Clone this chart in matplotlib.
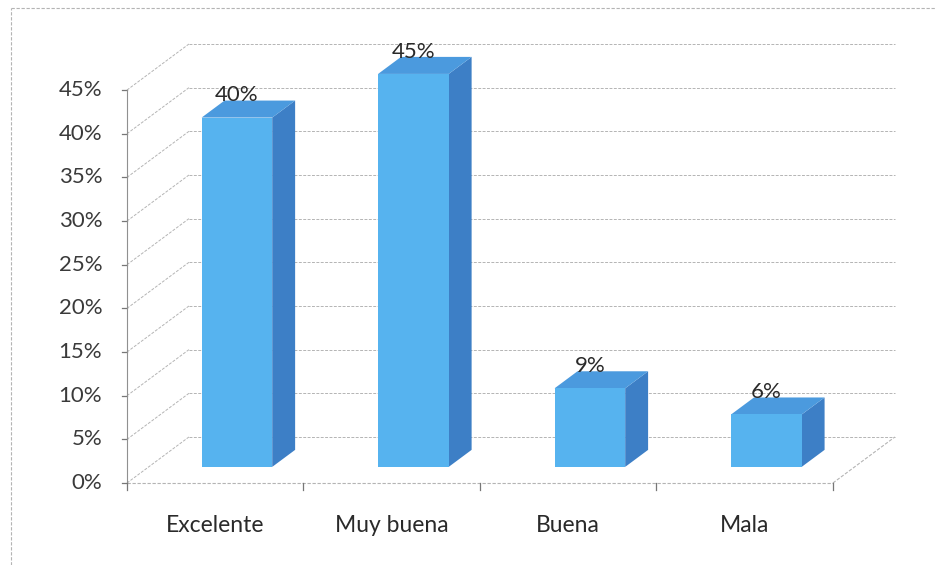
import matplotlib.pyplot as plt
from matplotlib.patches import Polygon
from matplotlib.lines import Line2D

plt.rcParams['font.family'] = ['Lato', 'DejaVu Sans']

categories = ['Excelente', 'Muy buena', 'Buena', 'Mala']
values = [40, 45, 9, 6]
value_ticks = [0, 5, 10, 15, 20, 25, 30, 35, 40, 45]

# oblique depth offset (full depth of the box) in data units
DX = 0.351
DY = 5.27
# bars sit between these depth fractions, width in category units
D1, D2 = 0.35, 0.72
BAR_W = 0.40

FRONT = '#56b3ef'
SIDE = '#3d7fc6'
TOP = '#4b9ade'
GRID = '#b4b4b4'
DASH = (0, (3, 1.5))


def proj(x, v, d):
    return (x + d * DX, v + d * DY)


fig = plt.figure(figsize=(9.36, 5.65), dpi=100)
ax = fig.add_axes([0, 0, 1, 1])
ax.set_xlim(-0.7195, 4.584)
ax.set_ylim(-9.39, 55.31)
ax.axis('off')

n = len(categories)
vmax = value_ticks[-1]

# back wall gridlines and left wall diagonals
for v in value_ticks:
    x0, y0 = proj(0, v, 1)
    x1, y1 = proj(n, v, 1)
    ax.plot([x0, x1], [y0, y1], color=GRID, lw=0.7, ls=DASH)
    fx, fy = proj(0, v, 0)
    ax.plot([fx, x0], [fy, y0], color=GRID, lw=0.7, ls=DASH)
    ax.plot([fx - 0.028, fx], [fy, fy], color='#777777', lw=0.9)
    ax.text(fx - 0.14, fy, f'{v}%', ha='right', va='center',
            fontsize=16, color='#3a3a3a')

# floor edges and front value axis
ax.plot(*zip(proj(0, 0, 0), proj(n, 0, 0)), color=GRID, lw=0.8, ls=DASH)
ax.plot(*zip(proj(n, 0, 0), proj(n, 0, 1)), color=GRID, lw=0.8, ls=DASH)
ax.plot(*zip(proj(0, 0, 0), proj(0, vmax, 0)), color='#909090', lw=0.8)
for i in range(n + 1):
    x, y = proj(i, 0, 0)
    ax.plot([x, x], [y, y - 0.8], color='#777777', lw=0.9)

# 3D columns
for i, (cat, val) in enumerate(zip(categories, values)):
    xl = i + 0.5 - BAR_W / 2
    xr = i + 0.5 + BAR_W / 2
    front = [proj(xl, 0, D1), proj(xr, 0, D1), proj(xr, val, D1), proj(xl, val, D1)]
    side = [proj(xr, 0, D1), proj(xr, 0, D2), proj(xr, val, D2), proj(xr, val, D1)]
    top = [proj(xl, val, D1), proj(xr, val, D1), proj(xr, val, D2), proj(xl, val, D2)]
    ax.add_patch(Polygon(side, closed=True, fc=SIDE, ec='none', zorder=3))
    ax.add_patch(Polygon(top, closed=True, fc=TOP, ec='none', zorder=3))
    ax.add_patch(Polygon(front, closed=True, fc=FRONT, ec='none', zorder=3))

    lx, _ = proj(i + 0.5, val, D1)
    _, ly = proj(i + 0.5, val, D2)
    ax.text(lx, ly + 0.6, f'{val}%', ha='center', va='center',
            fontsize=16, color='#2a2a2a', zorder=4)

    cx, cy = proj(i + 0.5, 0, 0)
    ax.text(cx, cy - 4.9, cat, ha='center', va='center',
            fontsize=16.5, color='#2a2a2a')

# chart border (left and top)
fig.add_artist(Line2D([10.5 / 936, 10.5 / 936], [0, 1 - 8 / 565],
                      color='#b4b4b4', lw=0.8, ls=DASH))
fig.add_artist(Line2D([10.5 / 936, 1], [1 - 8 / 565, 1 - 8 / 565],
                      color='#b4b4b4', lw=0.8, ls=DASH))

fig.savefig('out.png', dpi=100)
